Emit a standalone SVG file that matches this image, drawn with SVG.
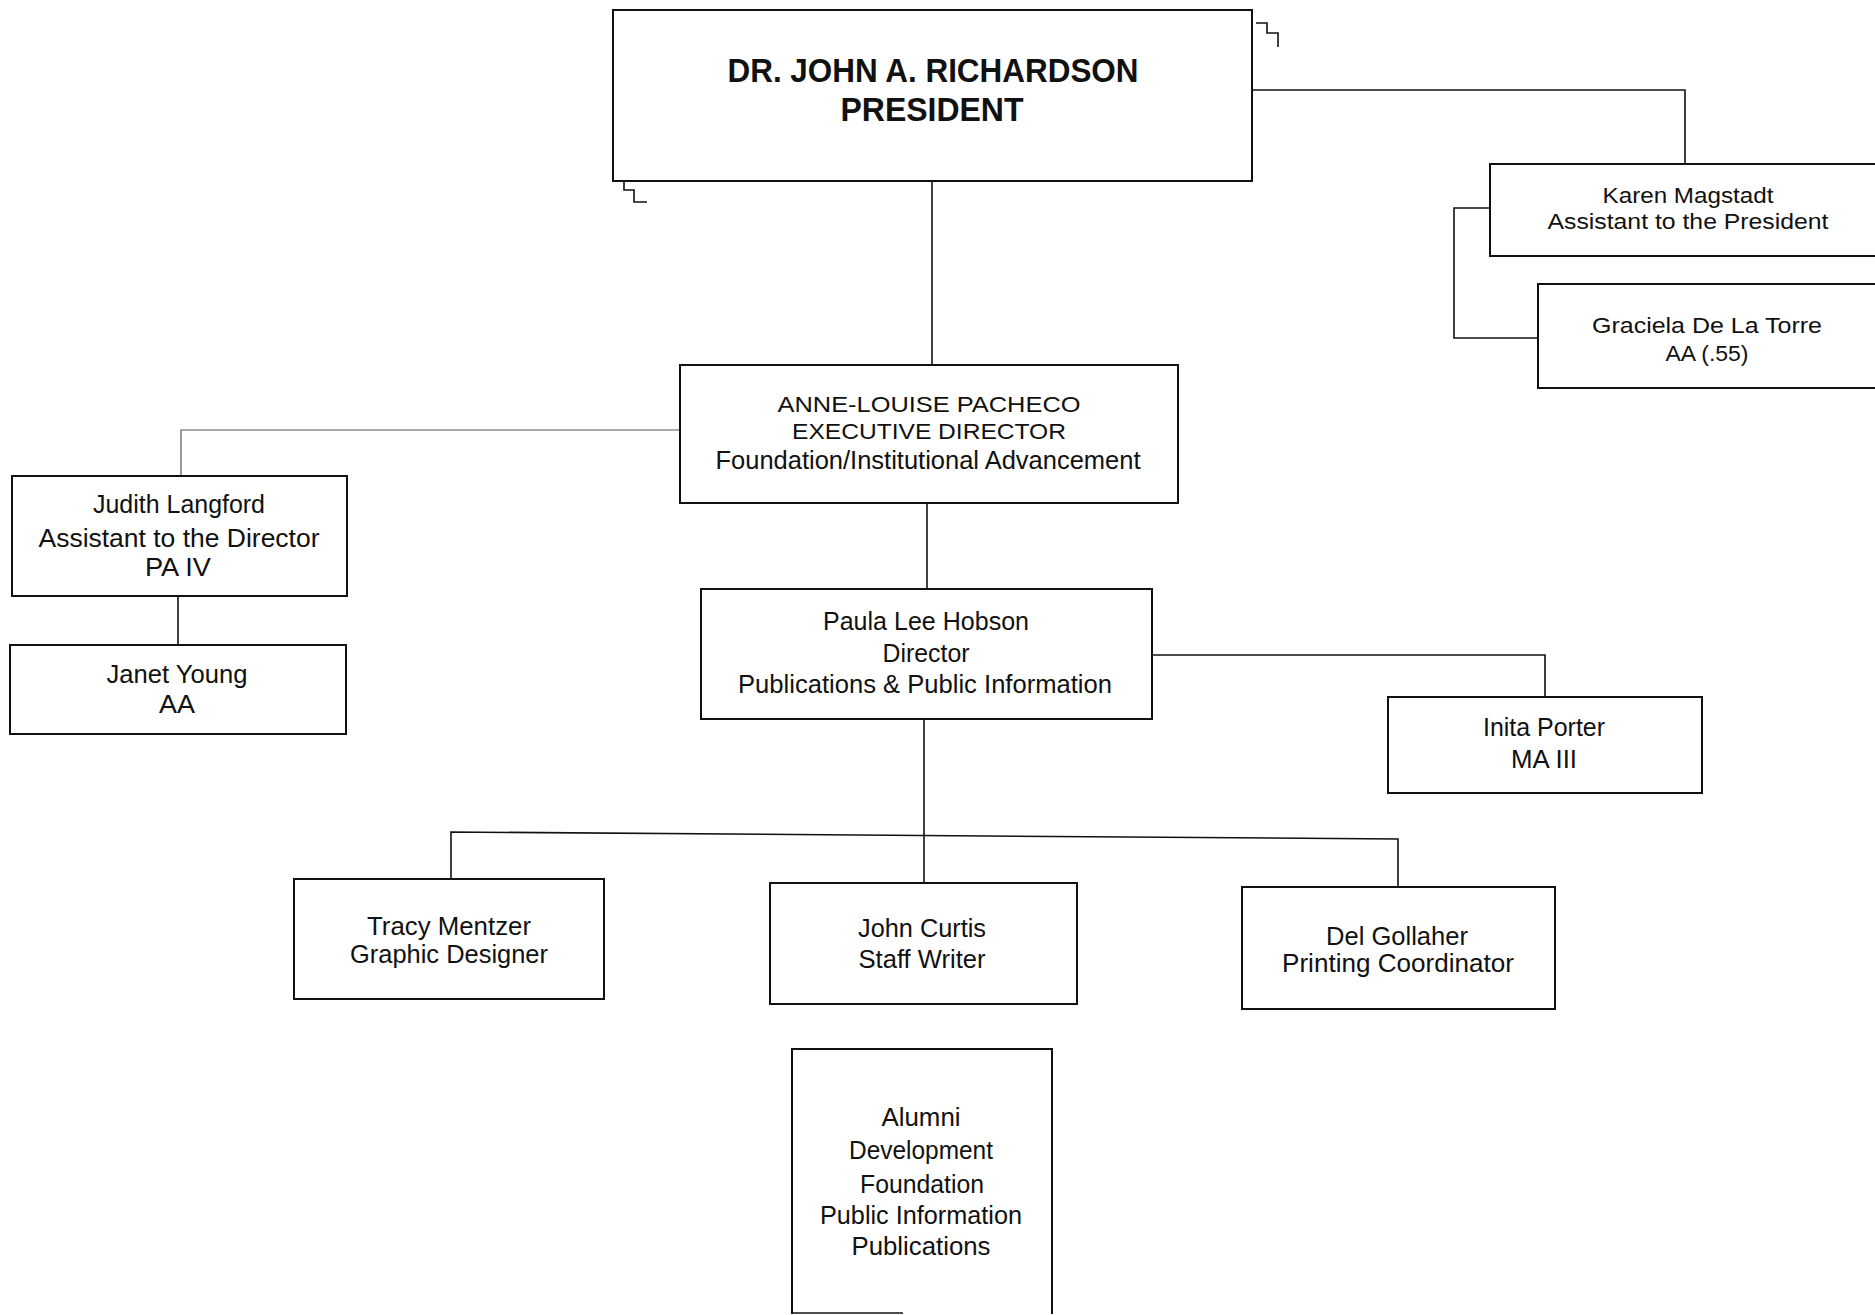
<svg xmlns="http://www.w3.org/2000/svg" width="1875" height="1315" viewBox="0 0 1875 1315">
  <style>
    .box { fill: #fff; stroke: #111; stroke-width: 2; }
    .edge { fill: none; stroke: #111; stroke-width: 1.6; }
    .thin { fill: none; stroke: #555; stroke-width: 1.2; }
    text { font-family: "Liberation Sans", Arial, sans-serif; fill: #111; text-anchor: middle; }
    .t21 { font-size: 22px; }
    .t23 { font-size: 25px; }
    .big { font-size: 34px; font-weight: bold; }
  </style>
  <rect width="1875" height="1315" fill="#fff"/>

  <!-- connectors -->
  <g id="connectors">
    <path class="edge" d="M1252,90 H1685 V164"/>
    <path class="edge" d="M932,181 V365"/>
    <path class="edge" d="M1490,208 H1454 V338 H1538"/>
    <path class="thin" d="M680,430 H181 V476"/>
    <path class="edge" d="M178,596 V645"/>
    <path class="edge" d="M927,503 V589"/>
    <path class="edge" d="M1152,655 H1545 V697"/>
    <path class="edge" d="M924,719 V883"/>
    <path class="edge" d="M451,878 V832 L1398,839 V887"/>
  </g>

  <!-- President -->
  <g id="president">
    <rect class="box" x="613" y="10" width="639" height="171"/>
    <path class="edge" d="M1256,23 H1267 V33 H1278 V47"/>
    <path class="edge" d="M624,182 V190 H634 V202 H647"/>
    <text class="big" x="933" y="82" textLength="411" lengthAdjust="spacingAndGlyphs">DR. JOHN A. RICHARDSON</text>
    <text class="big" x="932" y="121" textLength="183" lengthAdjust="spacingAndGlyphs">PRESIDENT</text>
  </g>

  <!-- Assistant to the President -->
  <g id="karen">
    <rect class="box" x="1490" y="164" width="400" height="92"/>
    <text class="t21" x="1688" y="203" textLength="171" lengthAdjust="spacingAndGlyphs">Karen Magstadt</text>
    <text class="t21" x="1688" y="229" textLength="281" lengthAdjust="spacingAndGlyphs">Assistant to the President</text>
  </g>

  <g id="graciela">
    <rect class="box" x="1538" y="284" width="352" height="104"/>
    <text class="t21" x="1707" y="333" textLength="230" lengthAdjust="spacingAndGlyphs">Graciela De La Torre</text>
    <text class="t21" x="1707" y="361" textLength="83" lengthAdjust="spacingAndGlyphs">AA (.55)</text>
  </g>

  <!-- Executive Director -->
  <g id="anne">
    <rect class="box" x="680" y="365" width="498" height="138"/>
    <text class="t21" x="929" y="412" textLength="303" lengthAdjust="spacingAndGlyphs">ANNE-LOUISE PACHECO</text>
    <text class="t21" x="929" y="439" textLength="274" lengthAdjust="spacingAndGlyphs">EXECUTIVE DIRECTOR</text>
    <text class="t23" x="928" y="469" textLength="425" lengthAdjust="spacingAndGlyphs">Foundation/Institutional  Advancement</text>
  </g>

  <g id="judith">
    <rect class="box" x="12" y="476" width="335" height="120"/>
    <text class="t23" x="179" y="513" textLength="172" lengthAdjust="spacingAndGlyphs">Judith Langford</text>
    <text class="t23" x="179" y="547" textLength="281" lengthAdjust="spacingAndGlyphs">Assistant to the Director</text>
    <text class="t23" x="178" y="576" textLength="66" lengthAdjust="spacingAndGlyphs">PA IV</text>
  </g>

  <g id="janet">
    <rect class="box" x="10" y="645" width="336" height="89"/>
    <text class="t23" x="177" y="683" textLength="141" lengthAdjust="spacingAndGlyphs">Janet Young</text>
    <text class="t23" x="177" y="713" textLength="36" lengthAdjust="spacingAndGlyphs">AA</text>
  </g>

  <!-- Director -->
  <g id="paula">
    <rect class="box" x="701" y="589" width="451" height="130"/>
    <text class="t23" x="926" y="630" textLength="206" lengthAdjust="spacingAndGlyphs">Paula Lee Hobson</text>
    <text class="t23" x="926" y="662" textLength="87" lengthAdjust="spacingAndGlyphs">Director</text>
    <text class="t23" x="925" y="693" textLength="374" lengthAdjust="spacingAndGlyphs">Publications &amp; Public Information</text>
  </g>

  <g id="inita">
    <rect class="box" x="1388" y="697" width="314" height="96"/>
    <text class="t23" x="1544" y="736" textLength="122" lengthAdjust="spacingAndGlyphs">Inita Porter</text>
    <text class="t23" x="1544" y="768" textLength="66" lengthAdjust="spacingAndGlyphs">MA III</text>
  </g>

  <!-- Staff -->
  <g id="tracy">
    <rect class="box" x="294" y="879" width="310" height="120"/>
    <text class="t23" x="449" y="935" textLength="164" lengthAdjust="spacingAndGlyphs">Tracy Mentzer</text>
    <text class="t23" x="449" y="963" textLength="198" lengthAdjust="spacingAndGlyphs">Graphic Designer</text>
  </g>

  <g id="john">
    <rect class="box" x="770" y="883" width="307" height="121"/>
    <text class="t23" x="922" y="937" textLength="128" lengthAdjust="spacingAndGlyphs">John Curtis</text>
    <text class="t23" x="922" y="968" textLength="127" lengthAdjust="spacingAndGlyphs">Staff Writer</text>
  </g>

  <g id="del">
    <rect class="box" x="1242" y="887" width="313" height="122"/>
    <text class="t23" x="1397" y="945" textLength="142" lengthAdjust="spacingAndGlyphs">Del Gollaher</text>
    <text class="t23" x="1398" y="972" textLength="232" lengthAdjust="spacingAndGlyphs">Printing Coordinator</text>
  </g>

  <!-- Program areas -->
  <g id="alumni">
    <path class="box" d="M792,1314 V1049 H1052 V1314"/>
    <path class="edge" d="M792,1313 H903"/>
    <text class="t23" x="921" y="1126" textLength="79" lengthAdjust="spacingAndGlyphs">Alumni</text>
    <text class="t23" x="921" y="1159" textLength="144" lengthAdjust="spacingAndGlyphs">Development</text>
    <text class="t23" x="922" y="1193" textLength="124" lengthAdjust="spacingAndGlyphs">Foundation</text>
    <text class="t23" x="921" y="1224" textLength="202" lengthAdjust="spacingAndGlyphs">Public Information</text>
    <text class="t23" x="921" y="1255" textLength="139" lengthAdjust="spacingAndGlyphs">Publications</text>
  </g>
</svg>
